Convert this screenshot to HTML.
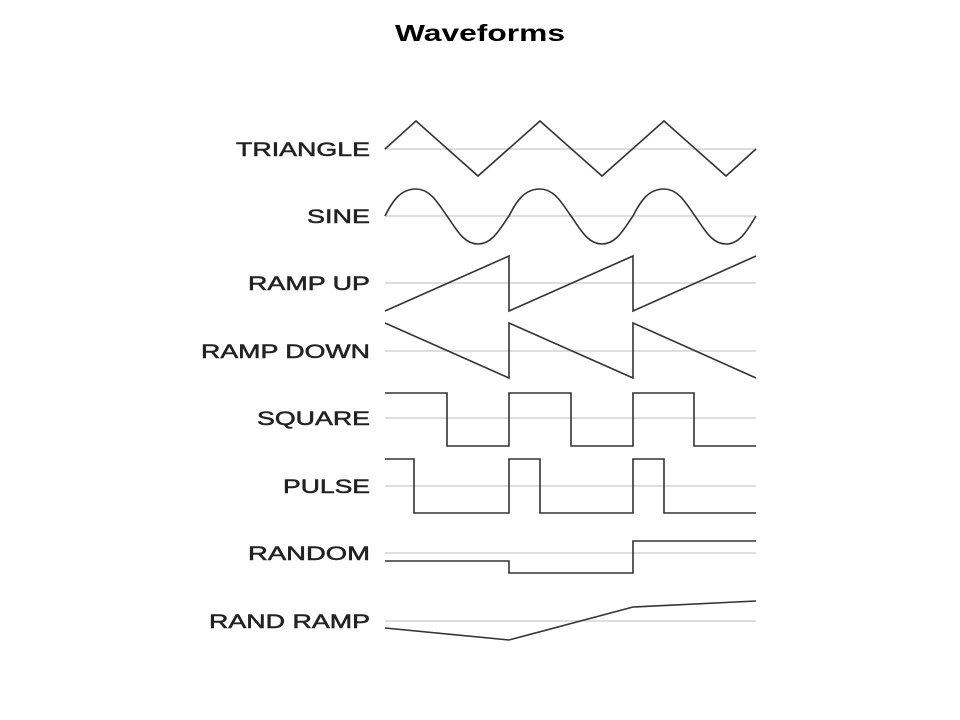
<!DOCTYPE html>
<html><head><style>
html,body{margin:0;padding:0;background:#fff;}
svg{display:block;}
</style></head><body>
<svg width="960" height="720" viewBox="0 0 960 720" xmlns="http://www.w3.org/2000/svg">
<rect width="960" height="720" fill="#fff"/>
<text x="395" y="41" font-family="'Liberation Sans',sans-serif" font-weight="bold" font-size="23" fill="#000" textLength="170" lengthAdjust="spacingAndGlyphs">Waveforms</text>
<g stroke="#d4d4d4" stroke-width="1.5">
<line x1="385" y1="149" x2="756" y2="149"/>
<line x1="385" y1="216" x2="756" y2="216"/>
<line x1="385" y1="283" x2="756" y2="283"/>
<line x1="385" y1="351" x2="756" y2="351"/>
<line x1="385" y1="418" x2="756" y2="418"/>
<line x1="385" y1="486" x2="756" y2="486"/>
<line x1="385" y1="553" x2="756" y2="553"/>
<line x1="385" y1="621" x2="756" y2="621"/>
</g>
<g font-family="'Liberation Sans',sans-serif" font-size="19" fill="#222" stroke="#222" stroke-width="0.5">
<text x="236" y="156" textLength="134" lengthAdjust="spacingAndGlyphs">TRIANGLE</text>
<text x="307" y="223" textLength="63" lengthAdjust="spacingAndGlyphs">SINE</text>
<text x="248" y="290" textLength="122" lengthAdjust="spacingAndGlyphs">RAMP UP</text>
<text x="201" y="358" textLength="169" lengthAdjust="spacingAndGlyphs">RAMP DOWN</text>
<text x="257" y="425" textLength="113" lengthAdjust="spacingAndGlyphs">SQUARE</text>
<text x="283" y="493" textLength="87" lengthAdjust="spacingAndGlyphs">PULSE</text>
<text x="248" y="560" textLength="122" lengthAdjust="spacingAndGlyphs">RANDOM</text>
<text x="209" y="628" textLength="161" lengthAdjust="spacingAndGlyphs">RAND RAMP</text>
</g>
<g fill="none" stroke="#333" stroke-width="1.6" stroke-linejoin="miter">
<polyline points="385,149 416,121 478,176 540,121 602,176 664,121 726,176 756,149"/>
<path d="M385,216 C393,200 401,189 416,189 C431,189 439,205 447,216 C455,227 463,244 478,244 C493,244 501,227 509,216 C517,200 525,189 540,189 C555,189 563,205 571,216 C579,227 587,244 602,244 C617,244 625,227 633,216 C641,200 649,189 664,189 C679,189 687,205 695,216 C703,227 711,244 726,244 C741,244 749,227 756,216"/>
<polyline points="385,311 509,256 509,311 633,256 633,311 756,256"/>
<polyline points="385,323 509,378 509,323 633,378 633,323 756,378"/>
<polyline points="385,393 447,393 447,446 509,446 509,393 571,393 571,446 633,446 633,393 694,393 694,446 756,446"/>
<polyline points="385,459 414,459 414,513 509,513 509,459 540,459 540,513 633,513 633,459 664,459 664,513 756,513"/>
<polyline points="385,561 509,561 509,573 633,573 633,541 756,541"/>
<polyline points="385,628 509,640 633,607 756,601"/>
</g>
</svg>
</body></html>
